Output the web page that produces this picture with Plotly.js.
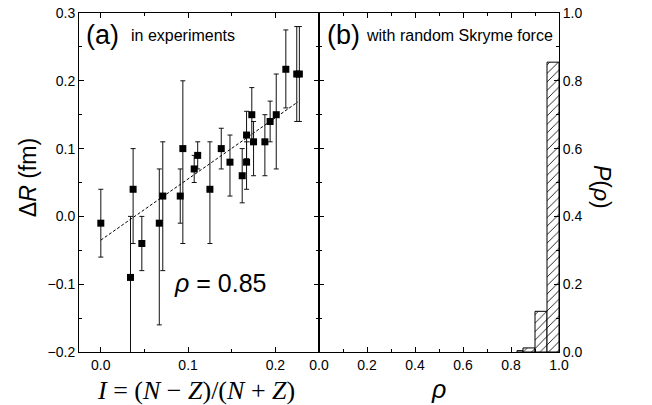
<!DOCTYPE html>
<html>
<head>
<meta charset="utf-8">
<script src="https://cdn.plot.ly/plotly-3.0.1.min.js"></script>
<style>html,body{margin:0;padding:0;background:#fff;}#chart{width:652px;height:405px;}</style>
</head>
<body>
<div id="chart"></div>
<script>
// Panel (a): measured neutron-skin differences vs isospin asymmetry
const isospinI = [0.000, 0.034, 0.037, 0.047, 0.067, 0.071, 0.091, 0.094, 0.107, 0.111, 0.125, 0.138,
                  0.148, 0.162, 0.167, 0.167, 0.173, 0.175, 0.188, 0.194, 0.201, 0.212, 0.2245, 0.2275];
const deltaR   = [-0.01, -0.09, 0.04, -0.04, -0.01, 0.03, 0.03, 0.10, 0.07, 0.09, 0.04, 0.10,
                  0.08, 0.06, 0.08, 0.12, 0.15, 0.11, 0.11, 0.14, 0.15, 0.217, 0.21, 0.21];
const errPlus  = [0.05, 0.09, 0.06, 0.04, 0.08, 0.08, 0.04, 0.10, 0.02, 0.02, 0.07, 0.03,
                  0.04, 0.04, 0.03, 0.035, 0.04, 0.03, 0.04, 0.03, 0.06, 0.058, 0.07, 0.07];
const errMinus = [0.05, 0.13, 0.08, 0.04, 0.15, 0.11, 0.04, 0.14, 0.02, 0.02, 0.08, 0.03,
                  0.05, 0.04, 0.04, 0.035, 0.04, 0.05, 0.05, 0.03, 0.08, 0.057, 0.07, 0.07];
// linear fit endpoints
const fitX = [0.0, 0.226];
const fitY = [-0.035, 0.169];

// Panel (b): distribution of correlation coefficient
const binEdges = [0.825, 0.85, 0.90, 0.95, 1.0];
const probRho  = [0.004, 0.012, 0.12, 0.855];

const binCenters = probRho.map((_, i) => (binEdges[i] + binEdges[i + 1]) / 2);
const binWidths  = probRho.map((_, i) => binEdges[i + 1] - binEdges[i]);

const traces = [
  {
    x: fitX, y: fitY, xaxis: 'x', yaxis: 'y', type: 'scatter', mode: 'lines',
    line: {color: '#000', width: 1, dash: '3px,2px'}, hoverinfo: 'skip'
  },
  {
    x: isospinI, y: deltaR, xaxis: 'x', yaxis: 'y', type: 'scatter', mode: 'markers',
    marker: {symbol: 'square', size: 7, color: '#000'},
    error_y: {type: 'data', symmetric: false, array: errPlus, arrayminus: errMinus,
              color: '#111', thickness: 1, width: 2.5}
  },
  {
    x: binCenters, y: probRho, width: binWidths, xaxis: 'x2', yaxis: 'y2', type: 'bar',
    marker: {color: '#fff', line: {color: '#000', width: 1},
             pattern: {shape: '/', fgcolor: '#000', bgcolor: '#fff', size: 6, solidity: 0.14}}
  }
];

const tickFont = {family: 'Liberation Sans, Arial, sans-serif', size: 14, color: '#000'};
const axisCommon = {
  showline: true, linecolor: '#000', linewidth: 1, mirror: 'ticks',
  ticks: 'inside', ticklen: 5, tickwidth: 1, tickcolor: '#000',
  showgrid: false, zeroline: false, tickfont: tickFont, tickformat: '.1f'
};

const layout = {
  width: 652, height: 405,
  margin: {l: 79, r: 93, t: 13, b: 53},
  paper_bgcolor: '#fff', plot_bgcolor: '#fff',
  showlegend: false,
  xaxis: Object.assign({}, axisCommon, {domain: [0, 0.5], range: [-0.025, 0.25], dtick: 0.1, tick0: 0,
    minor: {ticks: 'inside', ticklen: 3, dtick: 0.05, tickcolor: '#000'}}),
  yaxis: Object.assign({}, axisCommon, {range: [-0.2, 0.3], dtick: 0.1, tick0: 0,
    minor: {ticks: 'inside', ticklen: 3, dtick: 0.05, tickcolor: '#000'}}),
  xaxis2: Object.assign({}, axisCommon, {domain: [0.5, 1], range: [0, 1], dtick: 0.2, tick0: 0, anchor: 'y2',
    minor: {ticks: 'inside', ticklen: 3, dtick: 0.1, tickcolor: '#000'}}),
  yaxis2: Object.assign({}, axisCommon, {range: [0, 1], dtick: 0.2, tick0: 0, anchor: 'x2', side: 'right',
    minor: {ticks: 'inside', ticklen: 3, dtick: 0.1, tickcolor: '#000'}}),
  bargap: 0,
  annotations: [
    {text: '(a)', xref: 'paper', yref: 'paper', x: 0.010, y: 0.935, xanchor: 'left', yanchor: 'middle',
     showarrow: false, font: {family: 'Liberation Sans, Arial', size: 27, color: '#000'}},
    {text: 'in experiments', xref: 'paper', yref: 'paper', x: 0.104, y: 0.935, xanchor: 'left', yanchor: 'middle',
     showarrow: false, font: {family: 'Liberation Sans, Arial', size: 16, color: '#000'}},
    {text: '(b)', xref: 'paper', yref: 'paper', x: 0.512, y: 0.935, xanchor: 'left', yanchor: 'middle',
     showarrow: false, font: {family: 'Liberation Sans, Arial', size: 27, color: '#000'}},
    {text: 'with random Skryme force', xref: 'paper', yref: 'paper', x: 0.593, y: 0.935, xanchor: 'left', yanchor: 'middle',
     showarrow: false, font: {family: 'Liberation Sans, Arial', size: 16, color: '#000'}},
    {text: '<i>ρ</i> = 0.85', xref: 'paper', yref: 'paper', x: 0.194, y: 0.2035, xanchor: 'left', yanchor: 'middle',
     showarrow: false, font: {family: 'Liberation Sans, Arial', size: 25, color: '#000'}},
    {text: 'Δ<i>R</i> (fm)', xref: 'paper', yref: 'paper', x: -0.106, y: 0.513, xanchor: 'center', yanchor: 'middle',
     textangle: -90, showarrow: false, font: {family: 'Liberation Sans, Arial', size: 23, color: '#000'}},
    {text: '<i>P</i>(<i>ρ</i>)', xref: 'paper', yref: 'paper', x: 1.0896, y: 0.487, xanchor: 'center', yanchor: 'middle',
     textangle: 90, showarrow: false, font: {family: 'Liberation Sans, Arial', size: 23, color: '#000'}},
    {text: '<i>I</i> = (<i>N</i> − <i>Z</i>)/(<i>N</i> + <i>Z</i>)', xref: 'paper', yref: 'paper', x: 0.244, y: -0.115,
     xanchor: 'center', yanchor: 'middle', showarrow: false,
     font: {family: 'Liberation Serif, Times New Roman, serif', size: 26, color: '#000'}},
    {text: '<i>ρ</i>', xref: 'paper', yref: 'paper', x: 0.748, y: -0.109, xanchor: 'center', yanchor: 'middle',
     showarrow: false, font: {family: 'Liberation Sans, Arial', size: 25, color: '#000'}}
  ]
};

Plotly.newPlot('chart', traces, layout, {staticPlot: true, displayModeBar: false});
</script>
</body>
</html>
